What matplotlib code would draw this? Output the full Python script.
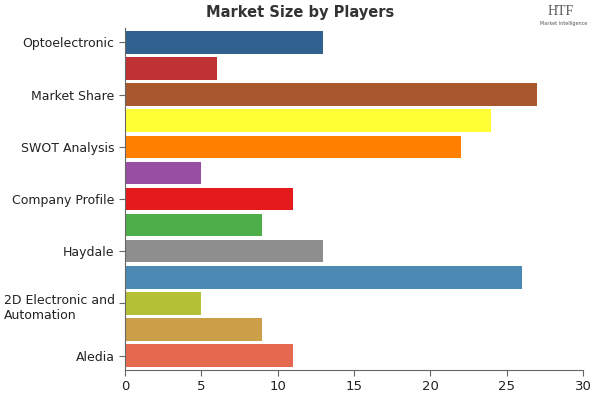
import matplotlib
matplotlib.use("Agg")
import matplotlib.pyplot as plt
from matplotlib.transforms import ScaledTranslation
from matplotlib import font_manager

categories = ["Optoelectronic", "", "Market Share", "", "SWOT Analysis", "",
              "Company Profile", "", "Haydale", "", "2D Electronic and\nAutomation", "", "Aledia"]
values = [13, 6, 27, 24, 22, 5, 11, 9, 13, 26, 5, 9, 11]
colors = ["#31618f", "#bf3133", "#a9572c", "#ffff33", "#ff7f00", "#984ea3",
          "#e41a1c", "#4daf4a", "#8e8e8e", "#4a8ab3", "#b4c035", "#cc9e47", "#e5694f"]
xticks = [0, 5, 10, 15, 20, 25, 30]

fig = plt.figure(figsize=(6, 4), dpi=100)
ax = fig.add_axes([125/600, 30/400, 458/600, 342/400])
ypos = list(range(len(values)))[::-1]
ax.barh(ypos, values, height=0.86, color=colors)
ax.set_ylim(-0.55, len(values) - 0.45)
ax.set_xlim(0, 30)
ax.set_xticks(xticks)
ax.set_xticklabels([str(t) for t in xticks], fontsize=9.5, color="#333333")
labeled = [(y, c) for y, c in zip(ypos, categories) if c]
ax.set_yticks([y for y, c in labeled])
ax.set_yticklabels([c for y, c in labeled], fontsize=9, color="#222222", linespacing=1.2)
for s in ["top", "right"]:
    ax.spines[s].set_visible(False)
for s in ["left", "bottom"]:
    ax.spines[s].set_color("#666666")
ax.tick_params(axis="both", colors="#666666", length=4)
for lbl in ax.get_xticklabels() + ax.get_yticklabels():
    lbl.set_color("#222222")
    if "\n" in lbl.get_text():
        lbl.set_multialignment("left")
        lbl.set_va("top")
        lbl.set_transform(lbl.get_transform() + ScaledTranslation(0, 7/72, fig.dpi_scale_trans))

names = {f.name for f in font_manager.fontManager.ttflist}
tfam = "Liberation Sans Narrow" if "Liberation Sans Narrow" in names else "DejaVu Sans"
fig.text(0.5, 0.968, "Market Size by Players", ha="center", va="center",
         fontsize=10.5, fontweight="bold", family=tfam, color="#333333")
fig.text(0.935, 0.972, "HTF", ha="center", va="center", fontsize=10,
         family="Liberation Serif", color="#555555")
fig.text(0.94, 0.94, "Market Intelligence", ha="center", va="center",
         fontsize=3.5, color="#555555")

fig.savefig("out.png", dpi=100)
